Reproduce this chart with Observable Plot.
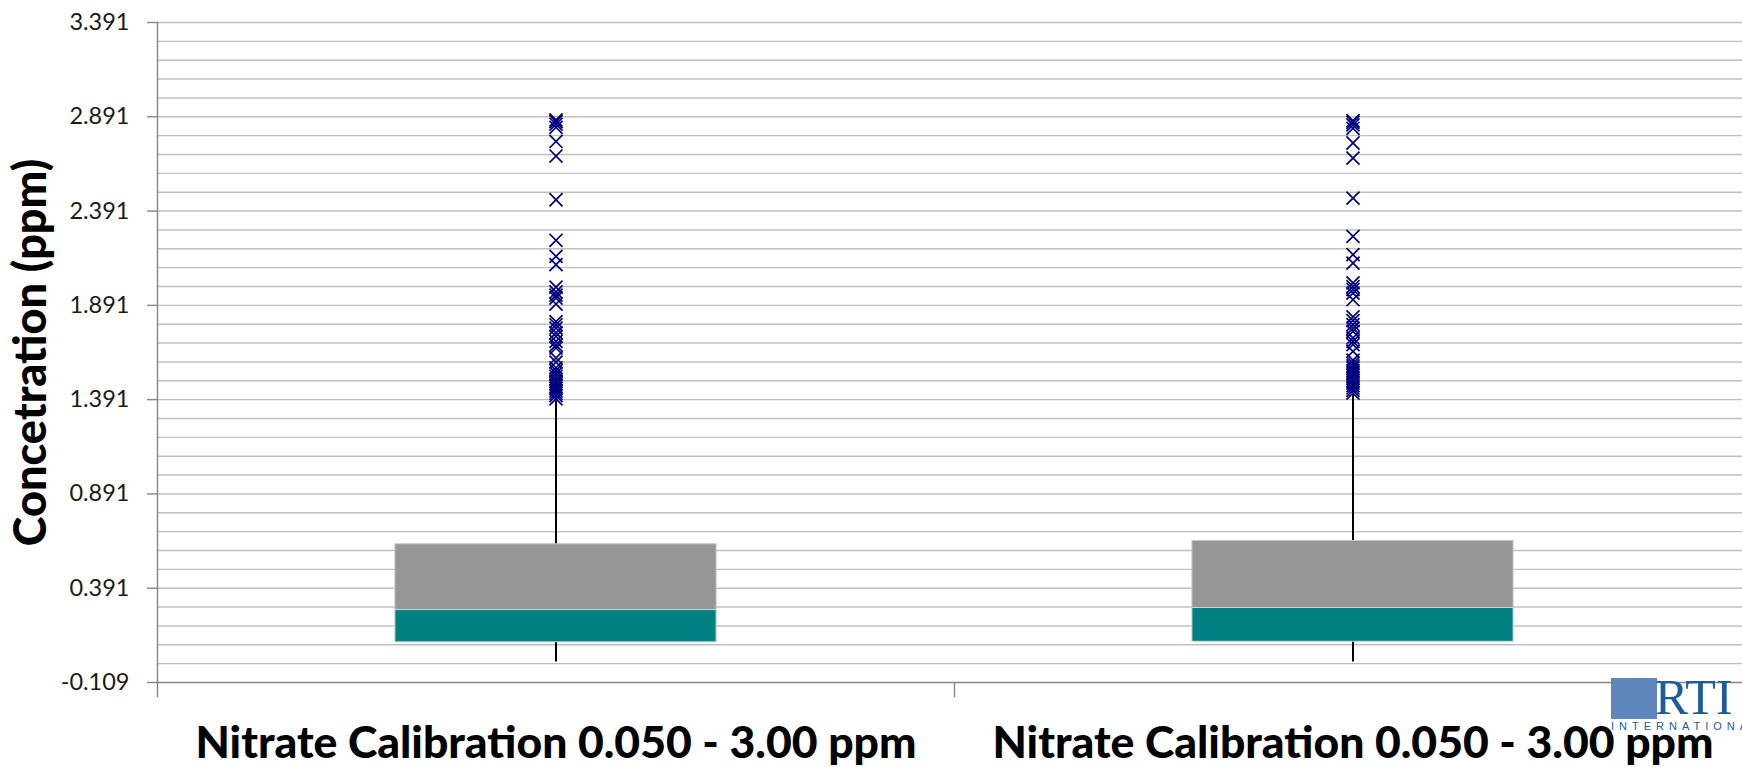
<!DOCTYPE html>
<html>
<head>
<meta charset="utf-8">
<script src="https://cdn.jsdelivr.net/npm/d3@7"></script>
<script src="https://cdn.jsdelivr.net/npm/@observablehq/plot@0.6"></script>
<style>
  html, body { margin: 0; padding: 0; background: #fff; }
  #wrap { position: relative; width: 1742px; height: 767px; overflow: hidden; }
  #logo { position: absolute; left: 1611px; top: 678px; height: 56px; width: 140px; }
  #logo .sq { position: absolute; left: 0; top: 0; width: 46px; height: 41px; background: #5f86bd; }
  #logo .rti { position: absolute; left: 44px; top: -6px; font-family: "Liberation Serif", "DejaVu Serif", serif; font-size: 50px; color: #1d5c9c; line-height: 1; }
  #logo .intl { position: absolute; left: 0; top: 42px; font-family: "Liberation Sans", sans-serif; font-size: 11px; letter-spacing: 5px; color: #1d5c9c; white-space: nowrap; }
</style>
</head>
<body>
<div id="wrap"><div id="chart"></div>
<div id="logo"><div class="sq"></div><div class="rti">RTI</div><div class="intl">INTERNATIONAL</div></div>
</div>
<script>
const categories = ["Nitrate Calibration 0.050 - 3.00 ppm", "Nitrate Calibration 0.050 - 3.00 ppm"];
const q1 = [0.104, 0.107];
const median = [0.275, 0.286];
const q3 = [0.624, 0.642];
const whiskerLow = [0.0, 0.0];
const whiskerHigh = [1.385, 1.418];
const outliers1 = [2.874, 2.866, 2.852, 2.835, 2.760, 2.683, 2.451, 2.236, 2.151, 2.107,
  1.988, 1.962, 1.945, 1.930, 1.898, 1.805, 1.788, 1.770, 1.745, 1.726, 1.700, 1.680, 1.665,
  1.612, 1.590, 1.560, 1.545, 1.530, 1.515, 1.500, 1.488, 1.475, 1.462, 1.450, 1.438, 1.425, 1.412, 1.395];
const outliers2 = [2.870, 2.862, 2.848, 2.830, 2.752, 2.672, 2.460, 2.257, 2.160, 2.115,
  2.010, 1.990, 1.975, 1.956, 1.921, 1.830, 1.810, 1.789, 1.770, 1.753, 1.718, 1.700, 1.683, 1.647,
  1.600, 1.585, 1.570, 1.559, 1.545, 1.532, 1.520, 1.506, 1.492, 1.479, 1.466, 1.453, 1.440, 1.426];
const majorTicks = [-0.109, 0.391, 0.891, 1.391, 1.891, 2.391, 2.891, 3.391];
const minorTicks = [-0.009, 0.091, 0.191, 0.291, 0.391, 0.491, 0.591, 0.691, 0.791, 0.891,
  0.991, 1.091, 1.191, 1.291, 1.391, 1.491, 1.591, 1.691, 1.791, 1.891,
  1.991, 2.091, 2.191, 2.291, 2.391, 2.491, 2.591, 2.691, 2.791, 2.891,
  2.991, 3.091, 3.191, 3.291, 3.391];
const yTitle = "Concetration (ppm)";

const boxHalf = 0.2015; // half box width, in category units
const boxes = categories.map((c, i) => ({
  i, c, q1: q1[i], median: median[i], q3: q3[i], lo: whiskerLow[i], hi: whiskerHigh[i]
}));
const points = [
  ...outliers1.map(v => ({i: 0, v})),
  ...outliers2.map(v => ({i: 1, v}))
];
const centers = categories.map((c, i) => i + 0.5);
const bounds = [...categories.map((c, i) => i), categories.length];

const chart = Plot.plot({
  width: 1742,
  height: 767,
  marginLeft: 157,
  marginRight: 0,
  marginTop: 22,
  marginBottom: 85,
  style: {fontFamily: "Lato, 'Open Sans', sans-serif", background: "#fff", color: "#000"},
  x: {type: "linear", domain: [0, categories.length], range: [157, 1751], axis: null},
  y: {domain: [-0.109, 3.391], axis: null},
  marks: [
    Plot.ruleY(minorTicks, {stroke: "#c0c0c0", strokeWidth: 1.4}),
    Plot.frame({anchor: "bottom", stroke: "#868686", strokeWidth: 1.4}),
    Plot.frame({anchor: "left", stroke: "#868686", strokeWidth: 1.4}),
    Plot.axisY({ticks: majorTicks, tickSize: 10, tickPadding: 18, stroke: "#868686", strokeWidth: 1.4,
      fill: "#1a1a1a", fontSize: 23.5, tickFormat: d => d.toFixed(3), label: null}),
    Plot.axisX({ticks: bounds, tickSize: 15, stroke: "#868686", strokeWidth: 1.4, tickFormat: () => "", label: null}),
    Plot.axisX({ticks: centers, tickSize: 0, tickPadding: 44, fontSize: 44.5, fontWeight: 900, fill: "#000",
      tickFormat: d => categories[Math.floor(d)], label: null}),
    Plot.text([yTitle], {frameAnchor: "left", rotate: -90, dx: -126, fontSize: 45, fontWeight: 900,
      fill: "#000", lineAnchor: "middle", textAnchor: "middle"}),
    Plot.ruleX(boxes, {x: d => d.i + 0.5, y1: "lo", y2: "hi", stroke: "#000", strokeWidth: 2}),
    Plot.rectY(boxes, {x1: d => d.i + 0.5 - boxHalf, x2: d => d.i + 0.5 + boxHalf, y1: "median", y2: "q3",
      fill: "#969696", stroke: "#c8c8c8", strokeWidth: 1}),
    Plot.rectY(boxes, {x1: d => d.i + 0.5 - boxHalf, x2: d => d.i + 0.5 + boxHalf, y1: "q1", y2: "median",
      fill: "#008080", stroke: "#c8d8d8", strokeWidth: 1}),
    Plot.dot(points, {x: d => d.i + 0.5, y: "v", symbol: "times", r: 6, stroke: "#000080", strokeWidth: 1.7})
  ]
});
document.getElementById("chart").appendChild(chart);
</script>
</body>
</html>
